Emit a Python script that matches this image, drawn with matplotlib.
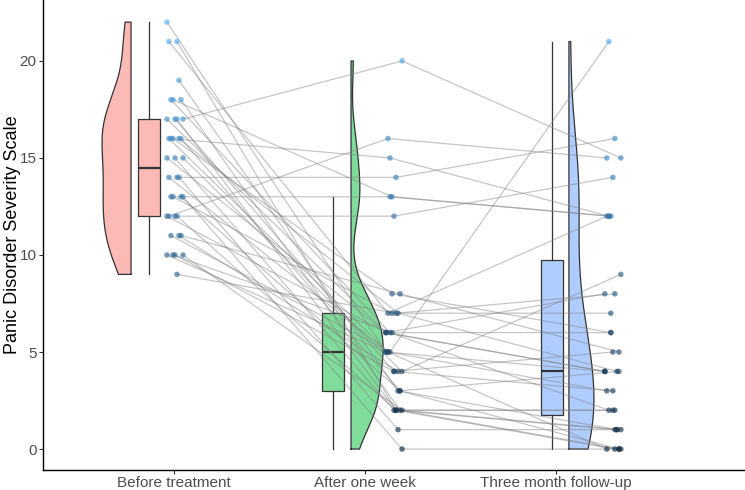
"""Raincloud-style paired plot: PDSS before treatment, after one week, three month follow-up."""
import matplotlib

matplotlib.use("Agg")
import matplotlib.pyplot as plt
import numpy as np
from matplotlib.colors import LinearSegmentedColormap

plt.rcParams["font.family"] = ["Liberation Sans", "DejaVu Sans"]

GROUPS = ["Before treatment", "After one week", "Three month follow-up"]
# one entry per subject (same order in all three lists); nan = missing follow-up
BEFORE = [22, 21, 21, 19, 18, 18, 18, 17, 17, 17, 17, 16, 16, 16, 16, 16, 15, 15, 15,
          14, 14, 14, 13, 13, 13, 13, 12, 12, 12, 12, 11, 11, 11, 10, 10, 10, 10, 9]
AFTER = [5, 2, 7, 3, 6, 2, 13, 20, 4, 6, 2, 5, 7, 15, 3, 8, 4, 2, 6,
         14, 5, 1, 13, 3, 7, 0, 12, 6, 2, 16, 4, 5, 8, 6, 2, 4, 5, 7]
FOLLOWUP = [4, 0, 12, 1, 2, 0, 12, 15, 5, 8, 1, 3, 4, 12, 0, 6, 9, 2, 4,
            16, 0, 1, 12, 4, 7, 0, 14, 4, 2, 15, np.nan, 21, 5, 6, 1, 3, np.nan, 8]

FILLS = ["#F8766D", "#00BA38", "#619CFF"]
BOX_OFF = [-0.131, -0.168, -0.021]          # box centre relative to tick
VIO_OFF = [-0.225, -0.073, 0.068]           # flat side of half violin
VIO_DIR = [-1, 1, 1]                        # which way the half violin bulges
VIO_W = [0.152, 0.168, 0.131]               # max half-violin width
PT_OFF = [0.005, 0.152, 0.298]              # centre of jittered points
BOX_W, JIT = 0.115, 0.042


def nrd0(x):
    sd = np.std(x, ddof=1)
    iqr = np.subtract(*np.percentile(x, [75, 25]))
    return 0.9 * min(sd, iqr / 1.34) * len(x) ** -0.2


def kde(x, grid):
    bw = nrd0(x)
    z = (grid[:, None] - x[None, :]) / bw
    return np.exp(-0.5 * z ** 2).sum(axis=1) / (len(x) * bw * np.sqrt(2 * np.pi))


data = [np.array(BEFORE, float), np.array(AFTER, float), np.array(FOLLOWUP, float)]
clean = [d[~np.isnan(d)] for d in data]
n = len(BEFORE)

fig = plt.figure(figsize=(7.45, 4.9), dpi=100)
ax = fig.add_axes([43 / 745, 20 / 490, 702 / 745, 470 / 490])

# half violins
grids = [np.linspace(c.min(), c.max(), 300) for c in clean]
dens = [kde(c, g) for c, g in zip(clean, grids)]
for k in range(3):
    x0 = k + 1 + VIO_OFF[k]
    w = VIO_DIR[k] * dens[k] / dens[k].max() * VIO_W[k]
    ax.fill_betweenx(grids[k], x0, x0 + w,
                     facecolor=FILLS[k], alpha=0.5, edgecolor="none", zorder=1)
    xs = np.concatenate([[x0], x0 + w, [x0, x0]])
    ys = np.concatenate([[grids[k][0]], grids[k], [grids[k][-1], grids[k][0]]])
    ax.plot(xs, ys, color="#333333", lw=0.9, zorder=2)

# boxplots
bp = ax.boxplot(clean, positions=[k + 1 + BOX_OFF[k] for k in range(3)], widths=BOX_W,
                patch_artist=True, showfliers=False, showcaps=False, manage_ticks=False,
                medianprops=dict(color="#333333", lw=1.6),
                whiskerprops=dict(color="#333333", lw=0.9),
                boxprops=dict(edgecolor="#333333", lw=0.9), zorder=2)
for patch, c in zip(bp["boxes"], FILLS):
    patch.set_facecolor(matplotlib.colors.to_rgba(c, 0.5))

# jittered x per subject (deterministic pattern)
jit = np.array([((i * 5) % 9 - 4) / 4 * JIT for i in range(n)])
xpos = [k + 1 + PT_OFF[k] + jit for k in range(3)]

# subject trajectories
for i in range(n):
    xs = [xpos[k][i] for k in range(3) if not np.isnan(data[k][i])]
    ys = [data[k][i] for k in range(3) if not np.isnan(data[k][i])]
    ax.plot(xs, ys, color="#808080", alpha=0.45, lw=0.9, zorder=3)

cmap = LinearSegmentedColormap.from_list("gg", ["#132B43", "#56B1F7"])
for k in range(3):
    m = ~np.isnan(data[k])
    ax.scatter(xpos[k][m], data[k][m], c=data[k][m], cmap=cmap, vmin=0, vmax=22,
               s=16, alpha=0.65, edgecolors="none", zorder=4)

ax.set_xlim(0.314, 3.99)
ax.set_ylim(-1.08, 23.14)
ax.set_xticks([1, 2, 3])
ax.set_xticklabels(GROUPS)
ax.set_yticks([0, 5, 10, 15, 20])
ax.tick_params(axis="both", labelsize=11, labelcolor="#4D4D4D", color="#333333",
               length=2.75, pad=1.8)
ax.set_ylabel("Panic Disorder Severity Scale", fontsize=13, color="black")
ax.yaxis.set_label_coords(-22 / 702, 0.5)
for s in ("top", "right"):
    ax.spines[s].set_visible(False)
for s in ("left", "bottom"):
    ax.spines[s].set_linewidth(1.0)

fig.savefig("out.png", dpi=100)
